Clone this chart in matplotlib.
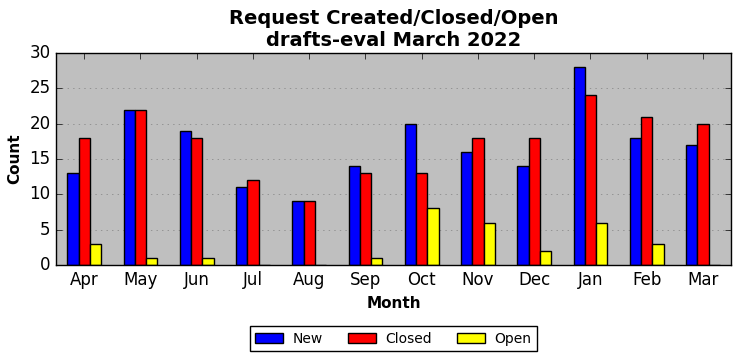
import matplotlib
matplotlib.use("Agg")
import matplotlib.pyplot as plt
import numpy as np

months = ["Apr", "May", "Jun", "Jul", "Aug", "Sep", "Oct", "Nov", "Dec", "Jan", "Feb", "Mar"]
new = [13, 22, 19, 11, 9, 14, 20, 16, 14, 28, 18, 17]
closed = [18, 22, 18, 12, 9, 13, 13, 18, 18, 24, 21, 20]
open_ = [3, 1, 1, 0, 0, 1, 8, 6, 2, 6, 3, 0]

plt.style.use("classic")
fig = plt.figure(figsize=(7.41, 3.61), dpi=100)
fig.patch.set_facecolor("white")
ax = fig.add_axes([56/741, 1-265/361, 675/741, 212/361])
ax.set_facecolor("#bfbfbf")

x = np.arange(len(months))
w = 0.2
ax.bar(x - w, new, w, color="blue", edgecolor="black", label="New", align="center")
ax.bar(x, closed, w, color="red", edgecolor="black", label="Closed", align="center")
ax.bar(x + w, open_, w, color="yellow", edgecolor="black", label="Open", align="center")

ax.set_xlim(-0.5, len(months) - 0.5)
ax.set_ylim(0, 30)
ax.set_xticks(x)
ax.set_xticklabels(months)
ax.yaxis.grid(True, linestyle=":", color="gray")
ax.set_axisbelow(True)
ax.set_xlabel("Month", fontweight="bold", fontsize=11)
ax.set_ylabel("Count", fontweight="bold", fontsize=11)
ax.set_title("Request Created/Closed/Open\ndrafts-eval March 2022", fontweight="bold", fontsize=14)
ax.legend(loc="upper center", bbox_to_anchor=(0.5, -0.255), ncol=3, fontsize=10,
          columnspacing=1.8, handletextpad=0.7)

fig.savefig("out.png", dpi=100)
